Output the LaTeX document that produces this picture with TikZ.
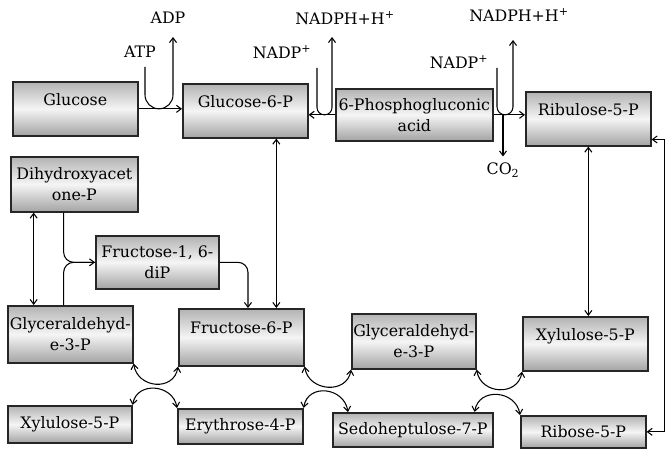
\documentclass[tikz,border=0pt]{standalone}
\usepackage{fontspec}
\setmainfont{DejaVu Serif}
\usetikzlibrary{arrows.meta}

\begin{document}
\begin{tikzpicture}[x=0.03cm, y=-0.03cm,
  box/.style={draw=black!85, line width=1.4pt, top color=black!30, bottom color=black!36, middle color=black!4, anchor=north west, align=center, inner sep=1pt, font=\fontsize{13.5}{18}\selectfont},
  high/.style={box, minimum width=3.75cm, minimum height=1.62cm, text height=0.66cm, text depth=0.88cm},
  two/.style={box, minimum width=3.75cm, minimum height=1.62cm},
  low/.style={box, minimum width=3.75cm, minimum height=1.05cm},
  lbl/.style={font=\fontsize{13.5}{15}\selectfont, inner sep=1pt},
  arr/.style={line width=0.9pt, -{Straight Barb[length=4pt,width=6pt]}},
  dbl/.style={line width=0.9pt, {Straight Barb[length=4pt,width=6pt]}-{Straight Barb[length=4pt,width=6pt]}}]
  \useasboundingbox (0,0) rectangle (668,450);

  \node[high] (glc) at (12,81) {Glucose};
  \node[high] (g6p) at (182,83) {Glucose-6-P};
  \node[two, minimum width=4.71cm, minimum height=1.56cm] (pga) at (335,88) {6-Phosphogluconic\\acid};
  \node[high] (rib) at (525,91) {Ribulose-5-P};
  \node[two, minimum width=3.81cm, minimum height=1.65cm] (dhap) at (10,156) {Dihydroxyacet\\one-P};
  \node[two, minimum width=3.69cm, minimum height=1.59cm] (f16) at (95,235) {Fructose-1, 6-\\diP};
  \node[two, minimum height=1.71cm] (g3pl) at (7,305) {Glyceraldehyd-\\e-3-P};
  \node[high, minimum height=1.71cm] (f6p) at (178,308) {Fructose-6-P};
  \node[two, minimum width=3.72cm, minimum height=1.65cm] (g3pm) at (351,313) {Glyceraldehyd-\\e-3-P};
  \node[high] (xylr) at (522,316) {Xylulose-5-P};
  \node[low, minimum width=3.72cm, minimum height=1.11cm] (xyll) at (7,405) {Xylulose-5-P};
  \node[low] (ery) at (177,408) {Erythrose-4-P};
  \node[low, minimum width=4.8cm, minimum height=1.02cm] (sed) at (332,412) {Sedoheptulose-7-P};
  \node[low, minimum height=0.96cm] (rbs) at (520,415) {Ribose-5-P};

  \node[lbl] (atp) at (140,52) {ATP};
  \node[lbl] (adp) at (168,18) {ADP};
  \node[lbl] (nadpa) at (282,52) {NADP\textsuperscript{+}};
  \node[lbl] (nadpha) at (345,18) {NADPH+H\textsuperscript{+}};
  \node[lbl] (nadpb) at (459,62) {NADP\textsuperscript{+}};
  \node[lbl] (nadphb) at (519,15) {NADPH+H\textsuperscript{+}};
  \node[lbl] (co2) at (503,170) {CO\textsubscript{2}};

  \coordinate (atpin) at (145,67);
  \coordinate (adpout) at (173,37);
  \coordinate (nadpain) at (317,68);
  \coordinate (nadphaout) at (332,37);
  \coordinate (nadpbin) at (497,68);
  \coordinate (nadphbout) at (513,40);

  \draw[arr] (glc.east) -- (glc.east -| g6p.west);
  \draw[arr, rounded corners=0.42cm] (atpin) |- (glc.east -| adpout) -- (adpout);
  \draw[arr] (pga.west) -- (pga.west -| g6p.east);
  \draw[arr, rounded corners=0.22cm] (nadpain) |- (pga.west -| nadphaout) -- (nadphaout);
  \draw[arr] (pga.east) -- (pga.east -| rib.west);
  \draw[arr, rounded corners=0.24cm] (nadpbin) |- (pga.east -| nadphbout) -- (nadphbout);
  \draw[arr, shorten >=0.15cm] (pga.east -| co2.north) -- (co2.north);

  \draw[dbl] ([xshift=-1.22cm]dhap.south) -- ([xshift=-1.22cm]dhap.south |- g3pl.north);
  \draw[arr, rounded corners=0.3cm] ([xshift=-0.32cm]dhap.south) |- (f16.west);
  \draw[rounded corners=0.3cm, line width=0.9pt] ([xshift=-0.2cm]g3pl.north) |- (f16.west);
  \draw[arr, rounded corners=0.3cm] (f16.east) -| ([xshift=0.2cm]f6p.north);
  \draw[dbl] ([xshift=0.93cm]g6p.south) -- ([xshift=0.93cm]g6p.south |- f6p.north);
  \draw[dbl] (rib.south) -- (rib.south |- xylr.north);
  \draw[dbl] ([yshift=-0.62cm]rib.east) -- ++(13,0) |- (rbs.east);

  \draw[dbl] (g3pl.south east) .. controls +(4,25) and +(-4,25) .. (f6p.south west);
  \draw[dbl] (xyll.north east) .. controls +(4,-24) and +(-4,-24) .. (ery.north west);
  \draw[dbl] (f6p.south east) .. controls +(4,25) and +(-4,25) .. (g3pm.south west);
  \draw[dbl] (ery.north east) .. controls +(4,-25) and +(-4,-25) .. ([xshift=0.48cm]sed.north west);
  \draw[dbl] (g3pm.south east) .. controls +(4,25) and +(-4,25) .. (xylr.south west);
  \draw[dbl] ([xshift=-0.57cm]sed.north east) .. controls +(4,-25) and +(-4,-25) .. (rbs.north west);
\end{tikzpicture}
\end{document}
